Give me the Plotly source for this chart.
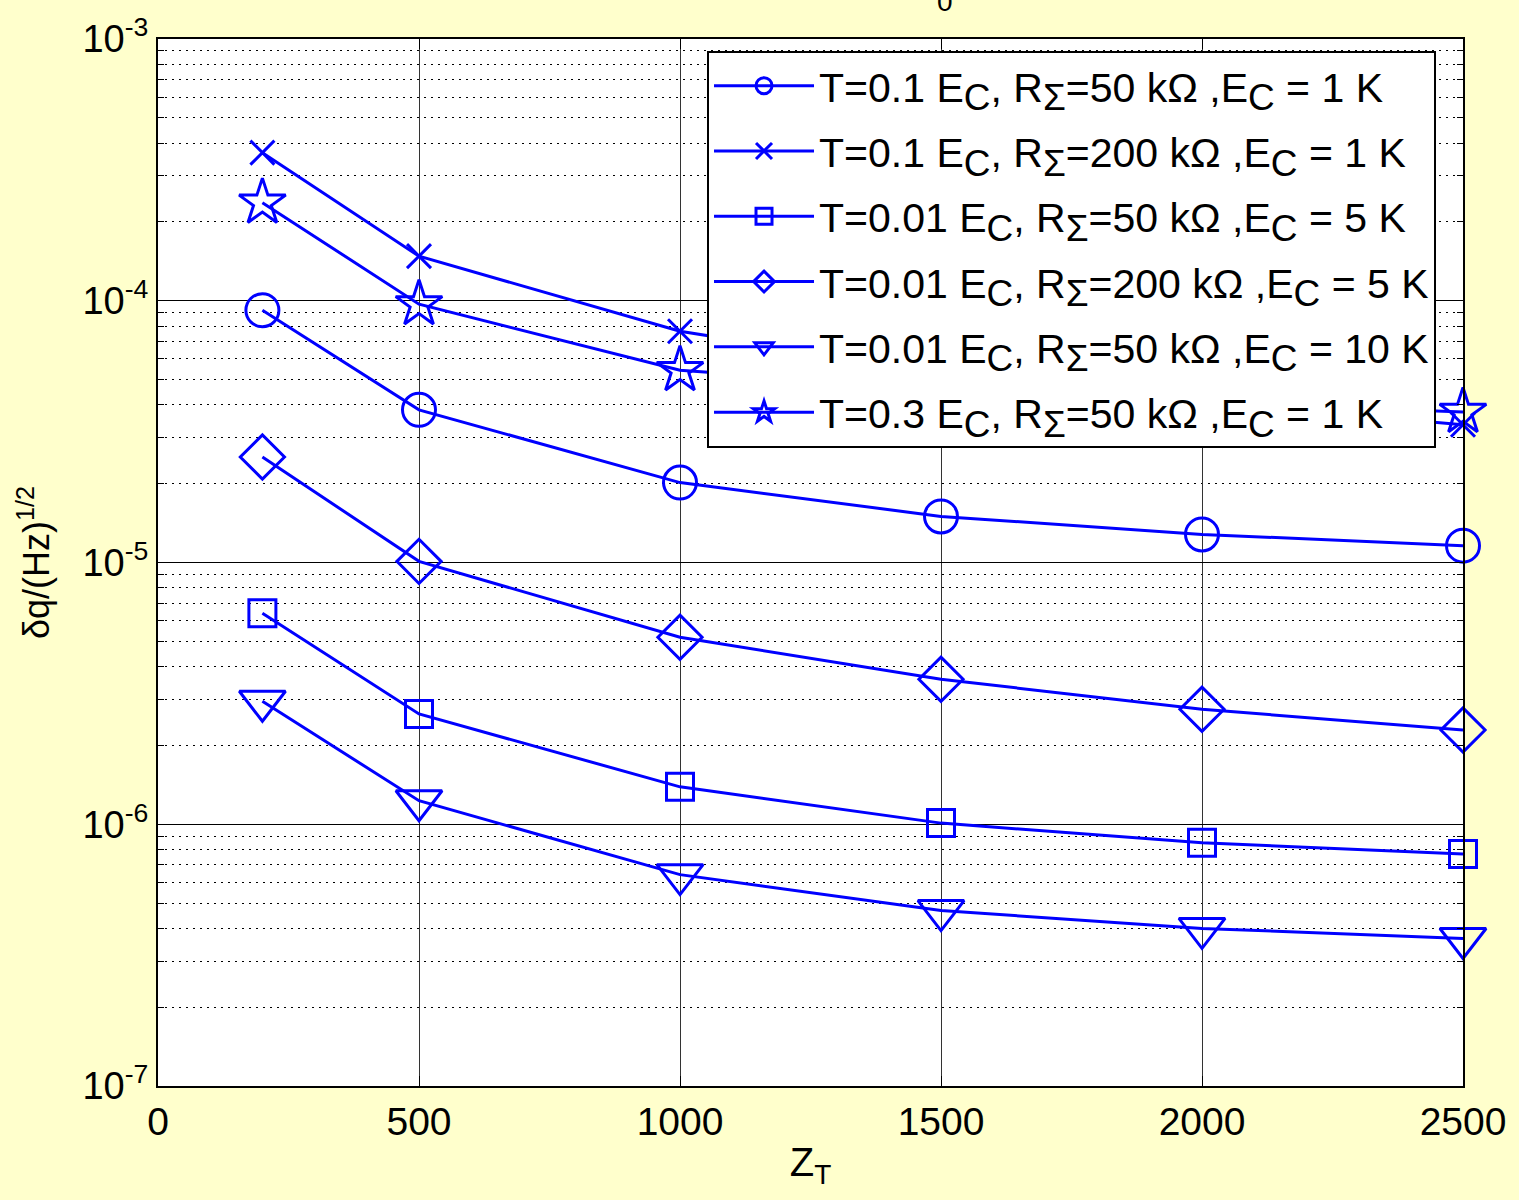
import plotly.graph_objects as go

# ---- data ----
z_t = [200, 500, 1000, 1500, 2000, 2500]

s_circle = [9.2e-5, 3.83e-5, 2.02e-5, 1.50e-5, 1.28e-5, 1.16e-5]
s_cross = [3.68e-4, 1.48e-4, 7.65e-5, 5.3e-5, 4.1e-5, 3.36e-5]
s_square = [6.4e-6, 2.64e-6, 1.39e-6, 1.01e-6, 8.5e-7, 7.7e-7]
s_diamond = [2.53e-5, 1.01e-5, 5.18e-6, 3.58e-6, 2.75e-6, 2.29e-6]
s_tri = [2.95e-6, 1.23e-6, 6.42e-7, 4.68e-7, 4.0e-7, 3.66e-7]
s_star = [2.37e-4, 9.7e-5, 5.43e-5, 4.6e-5, 4.1e-5, 3.76e-5]

LEG_SIZE = 41


def sub(t):
    return f"<sub><span style='font-size:{LEG_SIZE - 4}px'>{t}</span></sub>"


names = [
    f"T=0.1 E{sub('C')}, R{sub('Σ')}=50 kΩ ,E{sub('C')} = 1 K",
    f"T=0.1 E{sub('C')}, R{sub('Σ')}=200 kΩ ,E{sub('C')} = 1 K",
    f"T=0.01 E{sub('C')}, R{sub('Σ')}=50 kΩ ,E{sub('C')} = 5 K",
    f"T=0.01 E{sub('C')}, R{sub('Σ')}=200 kΩ ,E{sub('C')} = 5 K",
    f"T=0.01 E{sub('C')}, R{sub('Σ')}=50 kΩ ,E{sub('C')} = 10 K",
    f"T=0.3 E{sub('C')}, R{sub('Σ')}=50 kΩ ,E{sub('C')} = 1 K",
]
series = [s_circle, s_cross, s_square, s_diamond, s_tri, s_star]
symbols = ["circle-open", "x-thin-open", "square-open", "diamond-open",
           "triangle-down-open", "star-open"]
sizes = [33, 24, 27, 34, 40, 35]

y_tickvals = [1e-7, 1e-6, 1e-5, 1e-4, 1e-3]
y_ticktext = ["10<sup>-7</sup>", "10<sup>-6</sup>", "10<sup>-5</sup>", "10<sup>-4</sup>", "10<sup>-3</sup>"]
x_tickvals = [0, 500, 1000, 1500, 2000, 2500]
minor_vals = [m * 10.0 ** e for e in range(-7, -3) for m in range(2, 10)]

BLUE = "#0000FF"
FONT = "Liberation Sans, Arial, sans-serif"

fig = go.Figure()
for i, (name, ys, sym, sz) in enumerate(zip(names, series, symbols, sizes)):
    fig.add_trace(go.Scatter(
        x=z_t, y=ys, name=name, mode="lines+markers", legendgroup=f"g{i}",
        line=dict(color=BLUE, width=3),
        marker=dict(symbol=sym, size=sz, color=BLUE, line=dict(color=BLUE, width=3)),
        cliponaxis=False,
    ))

fig.update_layout(
    width=1519, height=1200,
    paper_bgcolor="#FFFFCC", plot_bgcolor="white",
    margin=dict(l=158, r=56, t=36, b=114),
    font=dict(family=FONT, color="black", size=34),
    showlegend=True,
    legend=dict(
        x=0.4207, y=0.989, xanchor="left", yanchor="top",
        bgcolor="white", bordercolor="black", borderwidth=2,
        font=dict(family=FONT, size=LEG_SIZE, color="black"),
        itemwidth=100, tracegroupgap=9,
    ),
    annotations=[dict(text="0", x=0.603, y=1.036, xref="paper", yref="paper",
                      showarrow=False, font=dict(size=28, color="black"),
                      xanchor="center", yanchor="middle")],
)

fig.update_xaxes(
    range=[0, 2500], tickvals=x_tickvals, ticktext=[str(v) for v in x_tickvals],
    showgrid=True, gridcolor="#333333", gridwidth=1,
    showline=True, linecolor="black", linewidth=2, mirror="ticks",
    ticks="inside", ticklen=10, tickcolor="black",
    tickfont=dict(size=39), zeroline=False,
    title=dict(text="Z<sub>T</sub>", font=dict(size=40), standoff=6),
)
fig.update_yaxes(
    type="log", range=[-7, -3], tickvals=y_tickvals, ticktext=y_ticktext,
    showgrid=True, gridcolor="black", gridwidth=1,
    showline=True, linecolor="black", linewidth=2, mirror="allticks",
    ticks="inside", ticklen=10, tickcolor="black",
    tickfont=dict(size=38), zeroline=False,
    minor=dict(tickvals=minor_vals, showgrid=True, gridcolor="black",
               griddash="2px,5px", gridwidth=1, ticks="inside", ticklen=6, tickcolor="black"),
    title=dict(text="δq/(Hz)<sup>1/2</sup>", font=dict(size=36), standoff=22),
)

fig.write_html("out.html")
